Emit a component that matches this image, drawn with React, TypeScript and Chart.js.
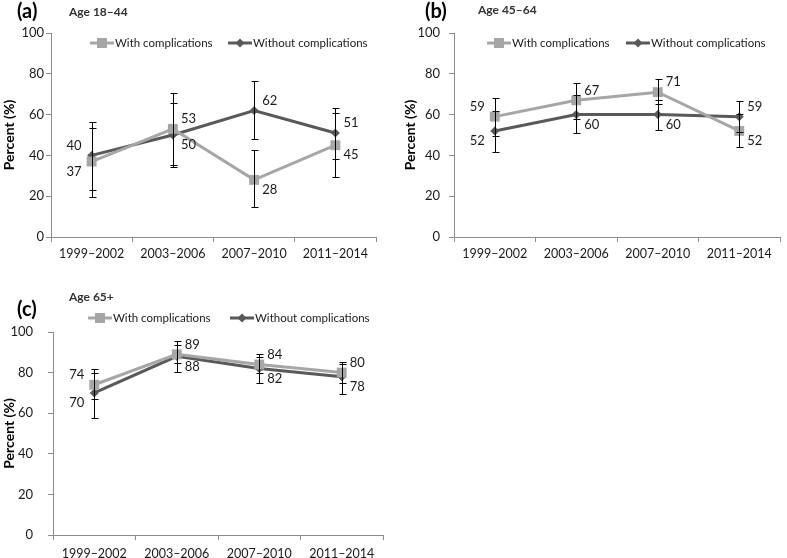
import React, { useEffect, useRef } from "react";
import { Chart, registerables } from "chart.js";

Chart.register(...registerables);

// ---------- data ----------
const categories = ["1999–2002", "2003–2006", "2007–2010", "2011–2014"];
const seriesNames = ["With complications", "Without complications"];

// (a) Age 18–44
const aWith = [37, 53, 28, 45];
const aWithLow = [23, 35.3, 14.5, 29.5];
const aWithHigh = [53.5, 70.5, 42.5, 61];
const aWithout = [40, 50, 62, 51];
const aWithoutLow = [19.5, 34.3, 48, 38];
const aWithoutHigh = [56.5, 65.5, 76.5, 63];

// (b) Age 45–64
const bWith = [59, 67, 71, 52];
const bWithLow = [49.5, 58, 65, 44.3];
const bWithHigh = [68.3, 75.3, 77.5, 60.5];
const bWithout = [52, 60, 60, 59];
const bWithoutLow = [41.8, 50.8, 52.4, 51.5];
const bWithoutHigh = [62, 69.5, 67.2, 66.7];

// (c) Age 65+
const cWith = [74, 89, 84, 80];
const cWithLow = [67, 84.9, 79.6, 74.8];
const cWithHigh = [81.6, 95.7, 89.2, 85.4];
const cWithout = [70, 88, 82, 78];
const cWithoutLow = [57.5, 80.1, 75, 69.3];
const cWithoutHigh = [80, 93.6, 87.5, 84];

const yMin = 0;
const yMax = 100;
const yStep = 20;

// ---------- styles ----------
const WITH_COLOR = "#a6a6a6";
const WITHOUT_COLOR = "#595959";
const AXIS_COLOR = "#8c8c8c";
const TEXT_COLOR = "#1a1a1a";
const FONT = "Lato";

type PanelProps = {
  left: number;
  top: number;
  width: number;
  height: number;
  tag: string;
  tagX: number;
  tagY: number;
  subtitle: string;
  subX: number;
  subY: number;
  withVals: number[];
  withLo: number[];
  withHi: number[];
  woVals: number[];
  woLo: number[];
  woHi: number[];
  padTop: number;
  padRight: number;
  yWidth: number;
  xHeight: number;
  yTickPad: number;
  xTickPad: number;
  titlePad: number;
  legendY: number;
  legend1X: number;
  legend2X: number;
};

function drawMarker(ctx: CanvasRenderingContext2D, kind: number, x: number, y: number) {
  ctx.beginPath();
  if (kind === 0) {
    ctx.fillStyle = WITH_COLOR;
    ctx.rect(x - 5, y - 5, 10, 10);
  } else {
    ctx.fillStyle = WITHOUT_COLOR;
    ctx.moveTo(x - 4.5, y);
    ctx.lineTo(x, y - 4.5);
    ctx.lineTo(x + 4.5, y);
    ctx.lineTo(x, y + 4.5);
    ctx.closePath();
  }
  ctx.fill();
}

function Panel(p: PanelProps) {
  const ref = useRef<HTMLCanvasElement>(null);

  useEffect(() => {
    const canvas = ref.current;
    if (!canvas) return;
    const series = [
      { vals: p.withVals, lo: p.withLo, hi: p.withHi },
      { vals: p.woVals, lo: p.woLo, hi: p.woHi },
    ];

    const overlay = {
      id: "overlay",
      afterDatasetsDraw(chart: any) {
        const ctx: CanvasRenderingContext2D = chart.ctx;
        const ys = chart.scales.y;
        ctx.save();
        // error bars
        ctx.strokeStyle = "#000";
        ctx.lineWidth = 1;
        series.forEach((s, i) => {
          const meta = chart.getDatasetMeta(i);
          meta.data.forEach((pt: any, j: number) => {
            const x = Math.round(pt.x) + 0.5;
            const yh = Math.round(ys.getPixelForValue(s.hi[j])) + 0.5;
            const yl = Math.round(ys.getPixelForValue(s.lo[j])) + 0.5;
            ctx.beginPath();
            ctx.moveTo(x, yh);
            ctx.lineTo(x, yl);
            ctx.moveTo(x - 3, yh);
            ctx.lineTo(x + 4, yh);
            ctx.moveTo(x - 3, yl);
            ctx.lineTo(x + 4, yl);
            ctx.stroke();
          });
        });
        // data labels
        ctx.font = `13px ${FONT}`;
        ctx.fillStyle = TEXT_COLOR;
        ctx.textBaseline = "middle";
        series.forEach((s, i) => {
          const other = series[1 - i];
          const meta = chart.getDatasetMeta(i);
          meta.data.forEach((pt: any, j: number) => {
            const up = s.vals[j] >= other.vals[j];
            const dy = up ? -10 : 10;
            const txt = String(s.vals[j]);
            if (j === 0) {
              ctx.textAlign = "right";
              ctx.fillText(txt, pt.x - 10, pt.y + dy);
            } else {
              ctx.textAlign = "left";
              ctx.fillText(txt, pt.x + 8, pt.y + dy);
            }
          });
        });
        ctx.restore();
      },
      afterDraw(chart: any) {
        const ctx: CanvasRenderingContext2D = chart.ctx;
        ctx.save();
        // panel tag and subtitle
        ctx.textBaseline = "middle";
        ctx.textAlign = "left";
        ctx.fillStyle = "#000";
        ctx.font = `bold 20px ${FONT}`;
        ctx.fillText(p.tag, p.tagX, p.tagY);
        ctx.fillStyle = "#333";
        ctx.font = `bold 12px ${FONT}`;
        ctx.fillText(p.subtitle, p.subX, p.subY);
        // legend
        const xs = [p.legend1X, p.legend2X];
        const colors = [WITH_COLOR, WITHOUT_COLOR];
        ctx.font = `11.5px ${FONT}`;
        xs.forEach((lx, i) => {
          ctx.strokeStyle = colors[i];
          ctx.lineWidth = 3;
          ctx.beginPath();
          ctx.moveTo(lx, p.legendY);
          ctx.lineTo(lx + 24, p.legendY);
          ctx.stroke();
          drawMarker(ctx, i, lx + 12, p.legendY);
          ctx.fillStyle = TEXT_COLOR;
          ctx.fillText(seriesNames[i], lx + 25, p.legendY);
        });
        ctx.restore();
      },
    };

    const chart = new Chart(canvas, {
      type: "line",
      data: {
        labels: categories,
        datasets: [
          {
            label: seriesNames[0],
            data: p.withVals,
            borderColor: WITH_COLOR,
            backgroundColor: WITH_COLOR,
            borderWidth: 3,
            pointStyle: "rect",
            pointRadius: 7,
            pointBorderWidth: 0,
            pointBackgroundColor: WITH_COLOR,
            tension: 0,
          },
          {
            label: seriesNames[1],
            data: p.woVals,
            borderColor: WITHOUT_COLOR,
            backgroundColor: WITHOUT_COLOR,
            borderWidth: 3,
            pointStyle: "rectRot",
            pointRadius: 4.5,
            pointBorderWidth: 0,
            pointBackgroundColor: WITHOUT_COLOR,
            tension: 0,
          },
        ],
      },
      options: {
        animation: false,
        responsive: false,
        maintainAspectRatio: false,
        events: [],
        layout: {
          padding: { left: 0, right: p.padRight, top: p.padTop, bottom: 0 },
        },
        plugins: {
          legend: { display: false },
          title: { display: false },
          tooltip: { enabled: false },
        },
        scales: {
          x: {
            type: "category",
            offset: true,
            grid: {
              display: true,
              offset: true,
              drawOnChartArea: false,
              drawTicks: true,
              tickLength: 5,
              color: AXIS_COLOR,
            },
            border: { display: true, color: AXIS_COLOR, width: 1 },
            ticks: {
              color: TEXT_COLOR,
              font: { family: FONT, size: 12.5 },
              padding: p.xTickPad,
              maxRotation: 0,
              autoSkip: false,
            },
            afterFit(scale: any) {
              scale.height = p.xHeight;
            },
          },
          y: {
            min: yMin,
            max: yMax,
            grid: {
              display: true,
              drawOnChartArea: false,
              drawTicks: true,
              tickLength: 5,
              color: AXIS_COLOR,
            },
            border: { display: true, color: AXIS_COLOR, width: 1 },
            ticks: {
              stepSize: yStep,
              color: TEXT_COLOR,
              font: { family: FONT, size: 13 },
              padding: p.yTickPad,
            },
            title: {
              display: true,
              text: "Percent (%)",
              color: "#000",
              font: { family: FONT, size: 14, weight: "bold" },
              padding: { top: p.titlePad, bottom: 0 },
            },
            afterFit(scale: any) {
              scale.width = p.yWidth;
            },
          },
        },
      },
      plugins: [overlay],
    } as any);

    return () => chart.destroy();
  }, []);

  return (
    <canvas
      ref={ref}
      width={p.width}
      height={p.height}
      style={{
        position: "absolute",
        left: p.left,
        top: p.top,
        width: p.width,
        height: p.height,
      }}
    />
  );
}

export default function App() {
  return (
    <div
      style={{
        position: "absolute",
        left: 0,
        top: 0,
        width: 787,
        height: 558,
        background: "#fff",
        overflow: "hidden",
      }}
    >
      <Panel
        left={0}
        top={0}
        width={390}
        height={270}
        tag="(a)"
        tagX={17}
        tagY={12}
        subtitle="Age 18–44"
        subX={69}
        subY={12}
        withVals={aWith}
        withLo={aWithLow}
        withHi={aWithHigh}
        woVals={aWithout}
        woLo={aWithoutLow}
        woHi={aWithoutHigh}
        padTop={33}
        padRight={14}
        yWidth={51}
        xHeight={33}
        yTickPad={2}
        xTickPad={4}
        titlePad={1}
        legendY={43}
        legend1X={90}
        legend2X={228}
      />
      <Panel
        left={390}
        top={0}
        width={397}
        height={270}
        tag="(b)"
        tagX={35}
        tagY={12}
        subtitle="Age 45–64"
        subX={88}
        subY={10}
        withVals={bWith}
        withLo={bWithLow}
        withHi={bWithHigh}
        woVals={bWithout}
        woLo={bWithoutLow}
        woHi={bWithoutHigh}
        padTop={33}
        padRight={1}
        yWidth={64}
        xHeight={33}
        yTickPad={9}
        xTickPad={4}
        titlePad={12}
        legendY={43}
        legend1X={97}
        legend2X={236}
      />
      <Panel
        left={0}
        top={270}
        width={390}
        height={288}
        tag="(c)"
        tagX={17}
        tagY={40}
        subtitle="Age 65+"
        subX={69}
        subY={27}
        withVals={cWith}
        withLo={cWithLow}
        withHi={cWithHigh}
        woVals={cWithout}
        woLo={cWithoutLow}
        woHi={cWithoutHigh}
        padTop={62}
        padRight={7}
        yWidth={53}
        xHeight={23}
        yTickPad={15}
        xTickPad={6}
        titlePad={1}
        legendY={48}
        legend1X={88}
        legend2X={230}
      />
    </div>
  );
}
